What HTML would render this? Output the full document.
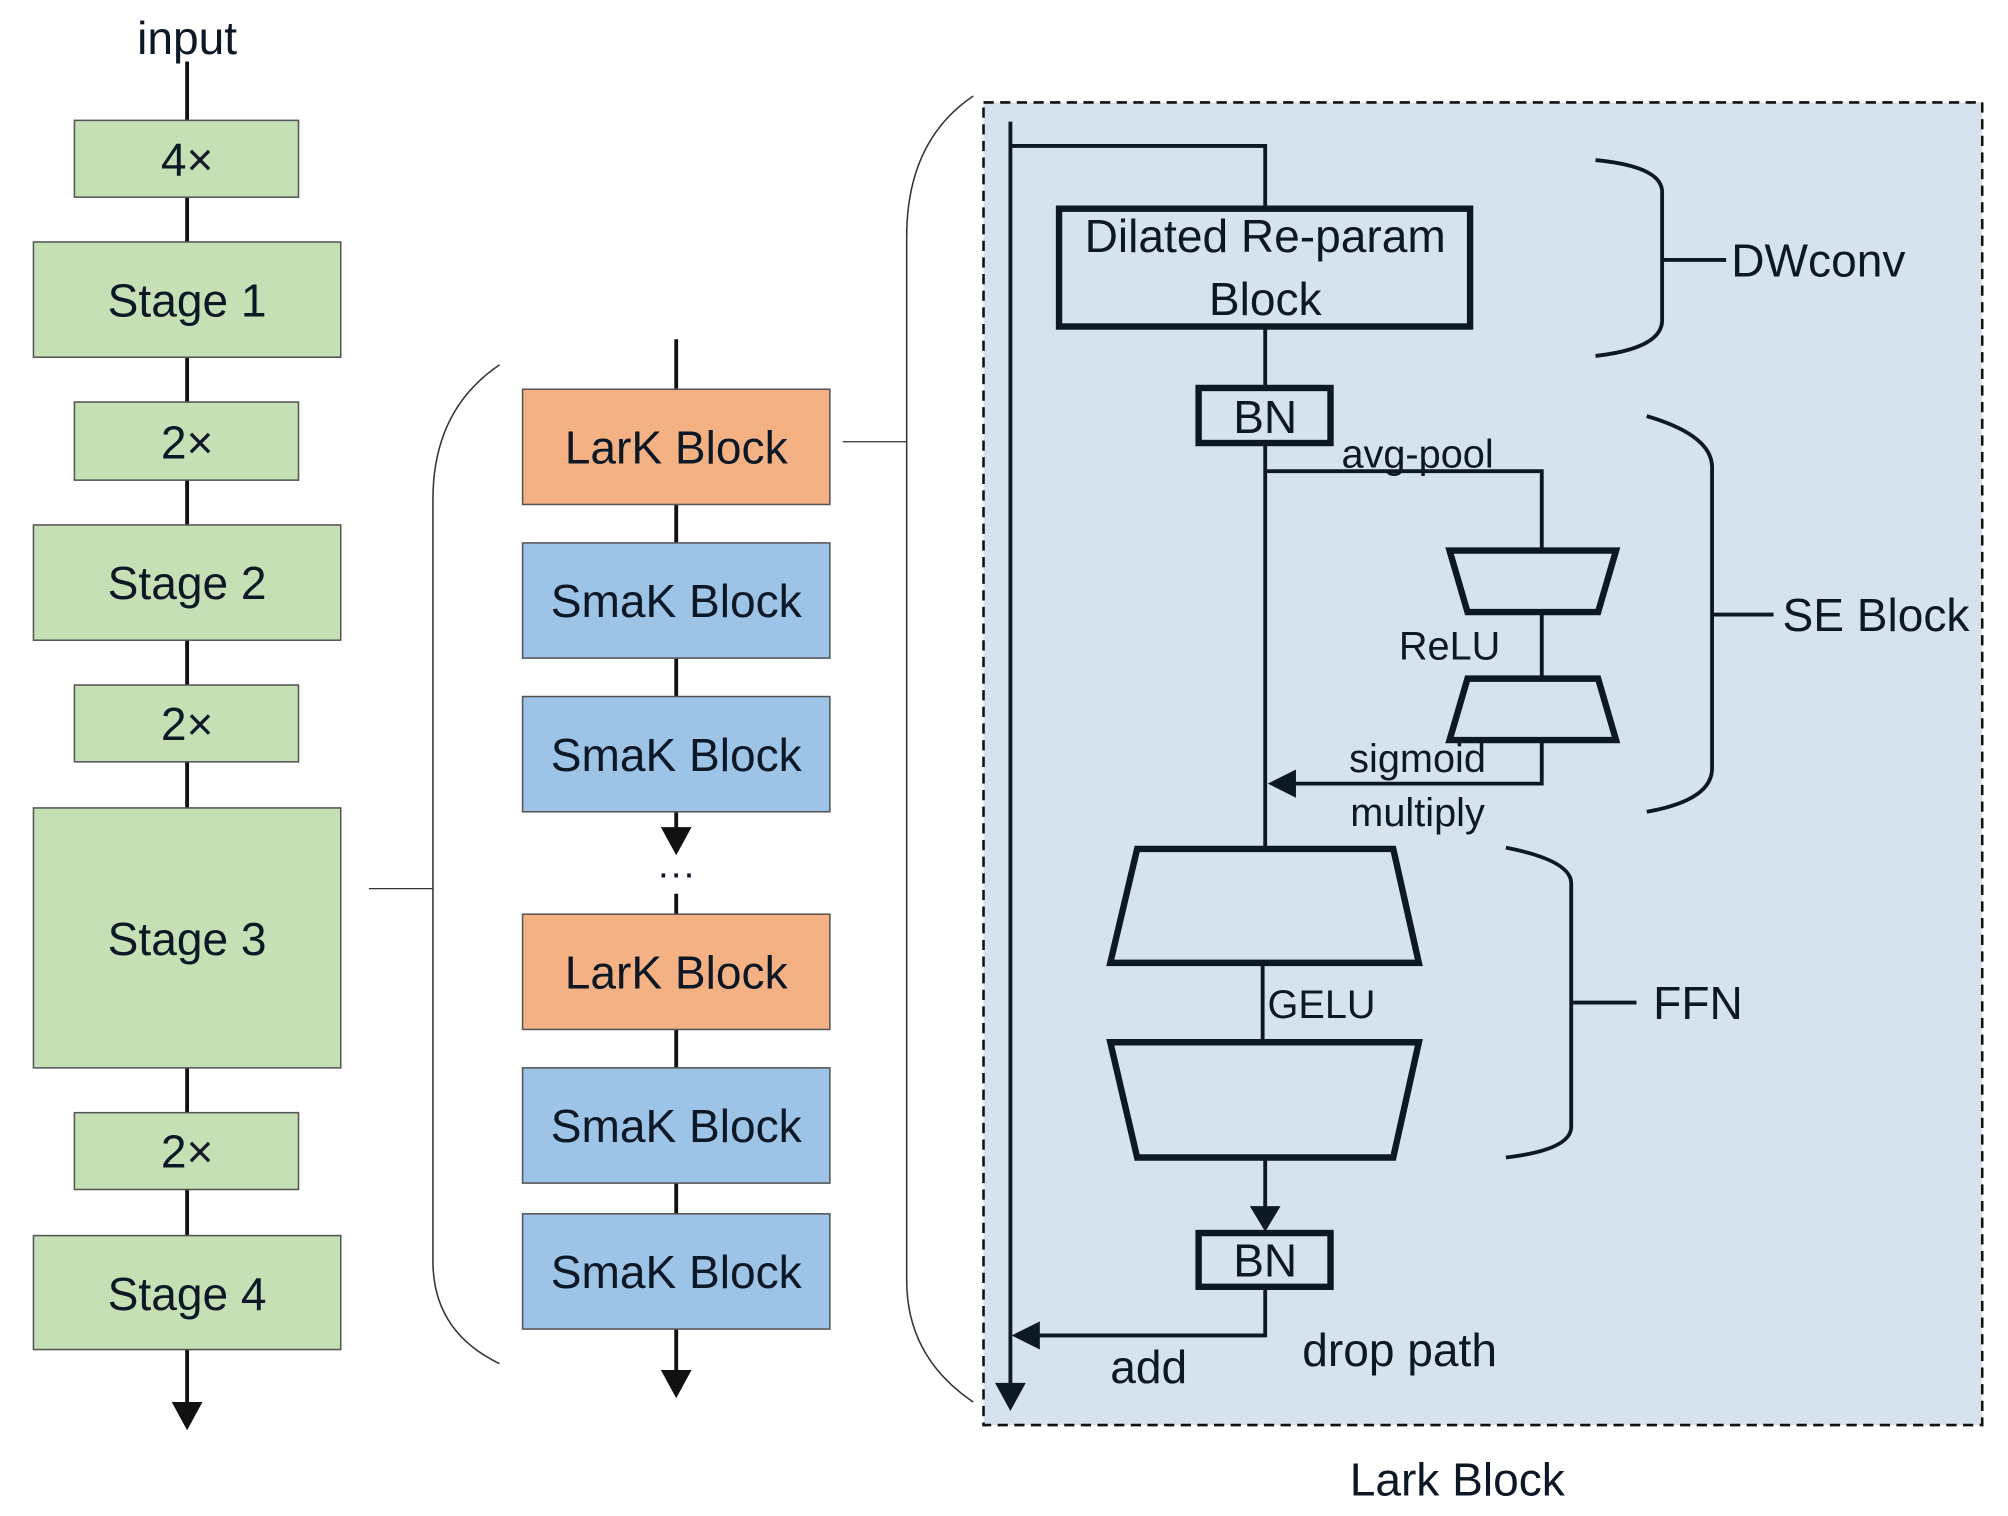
<!DOCTYPE html>
<html><head><meta charset="utf-8"><style>
html,body{margin:0;padding:0;background:#fff;}
svg{display:block;}
text{font-family:"Liberation Sans",sans-serif;fill:#0c1826;}
</style></head><body>
<svg width="2008" height="1516" viewBox="0 0 1568 1184" xmlns="http://www.w3.org/2000/svg">
<rect width="1568" height="1184" fill="#fff"/>
<text x="146" y="42" font-size="36" text-anchor="middle">input</text>
<line x1="146" y1="48" x2="146" y2="1097" stroke="#111" stroke-width="3"/>
<polygon points="134,1095 158,1095 146,1117" fill="#111"/>
<g fill="#c5e0b4" stroke="#555" stroke-width="1.2">
<rect x="58" y="94" width="175" height="60"/>
<rect x="26" y="189" width="240" height="90"/>
<rect x="58" y="314" width="175" height="61"/>
<rect x="26" y="410" width="240" height="90"/>
<rect x="58" y="535" width="175" height="60"/>
<rect x="26" y="631" width="240" height="203"/>
<rect x="58" y="869" width="175" height="60"/>
<rect x="26" y="965" width="240" height="89"/>
</g>
<g font-size="36" text-anchor="middle">
<text x="146" y="137">4×</text>
<text x="146" y="247">Stage 1</text>
<text x="146" y="358">2×</text>
<text x="146" y="468">Stage 2</text>
<text x="146" y="578">2×</text>
<text x="146" y="746">Stage 3</text>
<text x="146" y="912">2×</text>
<text x="146" y="1023">Stage 4</text>
</g>
<line x1="288" y1="694" x2="338" y2="694" stroke="#333" stroke-width="1"/>
<path d="M390,285 Q338,320 338,390 L338,985 Q338,1040 390,1065" fill="none" stroke="#333" stroke-width="1.2"/>
<line x1="528" y1="265" x2="528" y2="650" stroke="#111" stroke-width="3"/>
<polygon points="516,646 540,646 528,668" fill="#111"/>
<text x="528" y="692" font-size="30" text-anchor="middle">···</text>
<line x1="528" y1="698" x2="528" y2="1075" stroke="#111" stroke-width="3"/>
<polygon points="516,1070 540,1070 528,1092" fill="#111"/>
<g stroke="#555" stroke-width="1.2">
<rect x="408" y="304" width="240" height="90" fill="#f4b183"/>
<rect x="408" y="424" width="240" height="90" fill="#9dc3e6"/>
<rect x="408" y="544" width="240" height="90" fill="#9dc3e6"/>
<rect x="408" y="714" width="240" height="90" fill="#f4b183"/>
<rect x="408" y="834" width="240" height="90" fill="#9dc3e6"/>
<rect x="408" y="948" width="240" height="90" fill="#9dc3e6"/>
</g>
<g font-size="36" text-anchor="middle">
<text x="528" y="362">LarK Block</text>
<text x="528" y="482">SmaK Block</text>
<text x="528" y="602">SmaK Block</text>
<text x="528" y="772">LarK Block</text>
<text x="528" y="892">SmaK Block</text>
<text x="528" y="1006">SmaK Block</text>
</g>
<line x1="658" y1="345" x2="708" y2="345" stroke="#333" stroke-width="1"/>
<path d="M760,75 Q708,110 708,185 L708,1000 Q708,1060 760,1095" fill="none" stroke="#333" stroke-width="1.2"/>
<rect x="768" y="80" width="780" height="1033" fill="#d6e3ef" stroke="#111" stroke-width="2" stroke-dasharray="8,5"/>
<g stroke="#0c1826" fill="none" stroke-width="3">
<line x1="789" y1="95" x2="789" y2="1085"/>
<polyline points="789,114 988,114 988,162"/>
<line x1="988" y1="255" x2="988" y2="302"/>
<line x1="988" y1="346" x2="988" y2="662"/>
<polyline points="988,368 1204,368 1204,428"/>
<line x1="1204" y1="478" x2="1204" y2="528"/>
<polyline points="1204,578 1204,612 1010,612"/>
<line x1="986" y1="752" x2="986" y2="813"/>
<line x1="988" y1="905" x2="988" y2="945"/>
<polyline points="988,1005 988,1043 810,1043"/>
</g>
<g fill="#0c1826">
<polygon points="777,1080 801,1080 789,1102"/>
<polygon points="990,612 1012,601 1012,623"/>
<polygon points="976,942 1000,942 988,962"/>
<polygon points="790,1043 812,1032 812,1054"/>
</g>
<g stroke="#0c1826" stroke-width="5" fill="#d6e3ef">
<rect x="827" y="163" width="321" height="92"/>
<rect x="936" y="303" width="103" height="43"/>
<polygon points="1132,430 1262,430 1248,478 1146,478"/>
<polygon points="1146,530 1248,530 1262,578 1132,578"/>
<polygon points="888,663 1088,663 1108,752 867,752"/>
<polygon points="867,814 1108,814 1088,904 888,904"/>
<rect x="936" y="963" width="103" height="42"/>
</g>
<g font-size="36" text-anchor="middle">
<text x="988" y="197">Dilated Re-param</text>
<text x="988" y="246">Block</text>
<text x="988" y="338">BN</text>
<text x="988" y="997">BN</text>
<text x="897" y="1080">add</text>
<text x="1093" y="1067">drop path</text>
<text x="1420" y="216">DWconv</text>
<text x="1465" y="493">SE Block</text>
<text x="1326" y="796">FFN</text>
<text x="1138" y="1168">Lark Block</text>
</g>
<g font-size="31" text-anchor="middle">
<text x="1107" y="365">avg-pool</text>
<text x="1132" y="515">ReLU</text>
<text x="1107" y="603">sigmoid</text>
<text x="1107" y="645">multiply</text>
<text x="1032" y="795">GELU</text>
</g>
<g fill="none" stroke="#0c1826" stroke-width="3">
<path d="M1246,125 Q1298,130 1298,150 L1298,250 Q1298,272 1246,278"/>
<line x1="1298" y1="203" x2="1348" y2="203"/>
<path d="M1286,325 Q1337,340 1337,365 L1337,600 Q1337,625 1286,634"/>
<line x1="1337" y1="480" x2="1385" y2="480"/>
<path d="M1176,662 Q1227,672 1227,690 L1227,880 Q1227,898 1176,904"/>
<line x1="1227" y1="783" x2="1278" y2="783"/>
</g>
</svg>
</body></html>
